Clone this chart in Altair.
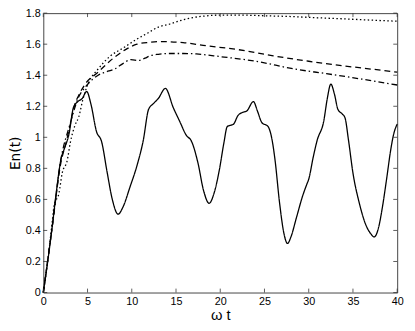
import altair as alt
import pandas as pd

# solid curve
solid_t = [0, 0.5, 1.0, 1.5, 2.0, 2.4, 2.9, 3.4, 3.9, 4.4, 4.9, 5.4, 6.0, 6.6, 7.2, 7.8, 8.45, 9.0, 9.8,
           10.6, 11.3, 11.9, 12.5, 13.0, 13.8, 14.7, 15.4, 16.2, 16.7, 17.5, 18.1, 18.75, 19.3, 19.9, 20.4,
           20.8, 21.5, 22.0, 22.5, 23.0, 23.75, 24.2, 24.7, 25.4, 25.9, 26.2, 26.7, 27.2, 27.6, 28.0, 28.6,
           29.3, 29.8, 30.0, 30.5, 30.95, 31.7, 32.1, 32.5, 32.9, 33.3, 33.8, 34.1, 34.5, 35.0, 35.7, 36.5,
           37.0, 37.4, 37.9, 38.3, 38.8, 39.26, 39.6, 40.0]
solid_y = [0, 0.2, 0.42, 0.66, 0.86, 0.93, 1.02, 1.19, 1.23, 1.25, 1.295, 1.21, 1.04, 0.97, 0.78, 0.6, 0.505, 0.55, 0.68,
           0.82, 0.98, 1.18, 1.22, 1.25, 1.315, 1.19, 1.105, 1.01, 0.98, 0.83, 0.66, 0.575, 0.64, 0.79, 0.96,
           1.07, 1.085, 1.14, 1.16, 1.17, 1.23, 1.17, 1.095, 1.07, 0.97, 0.85, 0.58, 0.38, 0.316, 0.36, 0.48,
           0.62, 0.7, 0.73, 0.87, 0.98, 1.105, 1.25, 1.343, 1.28, 1.18, 1.15, 1.126, 0.98, 0.77, 0.58, 0.43,
           0.38, 0.358, 0.42, 0.54, 0.73, 0.916, 1.02, 1.085]

# dotted curve
dotted_t = [0, 0.5, 1.0, 1.22, 1.77, 2.14, 2.7, 3.07, 3.6, 4.0, 4.5, 5.1, 6.2, 7.5, 9.16, 10.5, 11.75, 13.0,
            14.3, 16.0, 18.0, 20.0, 22.5, 25.0, 28.0, 31.0, 34.0, 37.0, 40.0]
dotted_y = [0, 0.2, 0.45, 0.56, 0.64, 0.77, 0.85, 0.97, 1.08, 1.13, 1.25, 1.35, 1.44, 1.52, 1.58, 1.63, 1.67, 1.71,
            1.73, 1.76, 1.78, 1.787, 1.787, 1.783, 1.778, 1.77, 1.763, 1.755, 1.748]

# dashed curve
dashed_t = [0, 1.0, 2.0, 2.5, 3.0, 3.5, 4.0, 4.7, 6.2, 8.05, 9.3, 10.6, 12.0, 13.2, 15.8, 18.4, 22.0, 26.0,
            30.0, 34.0, 37.0, 40.0]
dashed_y = [0, 0.42, 0.84, 0.95, 1.07, 1.2, 1.27, 1.34, 1.42, 1.516, 1.565, 1.6, 1.612, 1.617, 1.61, 1.59, 1.565, 1.525,
            1.49, 1.46, 1.44, 1.42]

# dash-dot curve
dashdot_t = [0, 1.0, 2.0, 3.0, 4.0, 4.7, 5.5, 6.2, 7.0, 8.05, 9.0, 9.9, 10.8, 11.5, 12.1, 13.0, 14.3, 15.8,
             17.3, 20.0, 24.0, 28.4, 32.0, 36.0, 40.0]
dashdot_y = [0, 0.42, 0.86, 1.08, 1.26, 1.32, 1.37, 1.4, 1.42, 1.44, 1.475, 1.5, 1.495, 1.51, 1.526, 1.535, 1.54, 1.54,
             1.537, 1.52, 1.49, 1.44, 1.41, 1.375, 1.337]

x_ticks = [0, 5, 10, 15, 20, 25, 30, 35, 40]
y_ticks = [0, 0.2, 0.4, 0.6, 0.8, 1.0, 1.2, 1.4, 1.6, 1.8]

series_names = ["solid", "dotted", "dashed", "dashdot"]
frames = []
for name, t, y in [("solid", solid_t, solid_y), ("dotted", dotted_t, dotted_y),
                   ("dashed", dashed_t, dashed_y), ("dashdot", dashdot_t, dashdot_y)]:
    frames.append(pd.DataFrame({"t": t, "En": y, "series": name}))
df = pd.concat(frames, ignore_index=True)

W, H = 361, 285
FONT = "Liberation Sans"

xscale = alt.Scale(domain=[0, 40], nice=False, zero=False)
yscale = alt.Scale(domain=[0, 1.8], nice=False, zero=False)

xaxis = alt.Axis(values=x_ticks, title="ω t", grid=False, ticks=False, domain=False,
                 labelFontSize=11, labelPadding=3, titleFontSize=15, titleFontWeight="normal",
                 titlePadding=2, labelColor="black", titleColor="black", labelFont=FONT,
                 titleFont=FONT, labelOverlap=False, labelFlush=False)
yaxis = alt.Axis(values=y_ticks, format="~g", title="En(t)", grid=False, ticks=False, domain=False,
                 labelFontSize=11, labelPadding=3, titleFontSize=14, titleFontWeight="normal",
                 titlePadding=3, labelColor="black", titleColor="black", labelFont=FONT,
                 titleFont="DejaVu Sans", labelOverlap=False, labelFlush=False)

lines = alt.Chart(df).mark_line(interpolate="monotone", strokeWidth=1.3, color="black").encode(
    x=alt.X("t:Q", scale=xscale, axis=xaxis),
    y=alt.Y("En:Q", scale=yscale, axis=yaxis),
    strokeDash=alt.StrokeDash("series:N",
                              scale=alt.Scale(domain=series_names,
                                              range=[[1, 0], [1.5, 2.5], [6, 4], [6, 3, 1.5, 3]]),
                              legend=None),
    detail="series:N",
)

xt = pd.DataFrame({"v": x_ticks})
yt = pd.DataFrame({"v": y_ticks})

bottom = alt.Chart(xt).mark_rule(color="#333", strokeWidth=0.8).encode(
    x=alt.X("v:Q", scale=xscale, axis=xaxis), y=alt.value(H), y2=alt.value(H - 4))
top = alt.Chart(xt).mark_rule(color="#333", strokeWidth=0.8).encode(
    x=alt.X("v:Q", scale=xscale, axis=xaxis), y=alt.value(0), y2=alt.value(4))
left = alt.Chart(yt).mark_rule(color="#333", strokeWidth=0.8).encode(
    y=alt.Y("v:Q", scale=yscale, axis=yaxis), x=alt.value(0), x2=alt.value(4))
right = alt.Chart(yt).mark_rule(color="#333", strokeWidth=0.8).encode(
    y=alt.Y("v:Q", scale=yscale, axis=yaxis), x=alt.value(W), x2=alt.value(W - 4))

chart = alt.layer(lines, bottom, top, left, right).properties(
    width=W, height=H,
    autosize=alt.AutoSizeParams(type="none"),
    padding={"left": 36, "top": 2, "right": 10, "bottom": 36},
).configure(background="white", view=alt.ViewConfig(stroke="#444", strokeWidth=1))

chart.save("out.html", embed_options={"renderer": "svg", "actions": False})
